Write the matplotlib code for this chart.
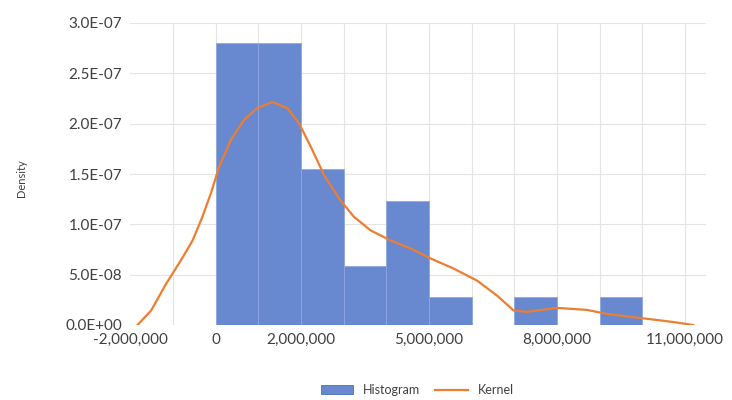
import numpy as np
from matplotlib import pyplot as plt
from matplotlib.ticker import FuncFormatter

plt.rcParams['font.family'] = ['Lato', 'DejaVu Sans']

# histogram bins (left edge, width 1,000,000) and densities
bin_left = [0, 1e6, 2e6, 3e6, 4e6, 5e6, 7e6, 9e6]
bin_density = [2.8e-7, 2.8e-7, 1.55e-7, 0.59e-7, 1.23e-7, 0.28e-7, 0.28e-7, 0.28e-7]

# kernel density curve
kern_x = [-1.83e6, -1.51e6, -1.16e6, -0.81e6, -0.54e6, -0.31e6, -0.11e6, 0.08e6,
          0.36e6, 0.67e6, 0.98e6, 1.33e6, 1.68e6, 1.95e6, 2.23e6, 2.54e6, 2.92e6,
          3.24e6, 3.63e6, 4.1e6, 4.57e6, 5.04e6, 5.58e6, 6.13e6, 6.6e6, 6.98e6,
          7.3e6, 8.0e6, 8.7e6, 9.17e6, 9.95e6, 10.72e6, 11.19e6]
kern_y = [0.0, 0.145e-7, 0.41e-7, 0.645e-7, 0.84e-7, 1.075e-7, 1.31e-7, 1.57e-7,
          1.84e-7, 2.04e-7, 2.155e-7, 2.215e-7, 2.155e-7, 2.006e-7, 1.77e-7, 1.49e-7, 1.24e-7,
          1.075e-7, 0.94e-7, 0.84e-7, 0.76e-7, 0.66e-7, 0.56e-7, 0.44e-7, 0.29e-7, 0.145e-7,
          0.13e-7, 0.17e-7, 0.15e-7, 0.11e-7, 0.07e-7, 0.03e-7, 0.0]

x_ticks = [-2e6, 0, 2e6, 5e6, 8e6, 11e6]
y_ticks = [0, 0.5e-7, 1.0e-7, 1.5e-7, 2.0e-7, 2.5e-7, 3.0e-7]

fig = plt.figure(figsize=(7.32, 4.0), dpi=100)
ax = fig.add_axes([0.178, 0.1875, 0.787, 0.755])

# light grid every 1,000,000 and every 5E-08
for gx in np.arange(-1e6, 11.5e6, 1e6):
    ax.axvline(gx, color='#e4e4e4', lw=0.8, zorder=0)
for gy in y_ticks:
    ax.axhline(gy, color='#e4e4e4', lw=0.8, zorder=0)

ax.bar(bin_left, bin_density, width=1e6, align='edge', color='#6889cf',
       edgecolor='#8ea8de', linewidth=0.6, zorder=2, label='Histogram')
ax.plot(kern_x, kern_y, color='#ED7D31', lw=1.6, zorder=3, label='Kernel',
        solid_joinstyle='round')

ax.set_xlim(-2e6, 11.5e6)
ax.set_ylim(0, 3.0e-7)
ax.set_xticks(x_ticks)
ax.set_yticks(y_ticks)
ax.xaxis.set_major_formatter(FuncFormatter(lambda v, p: f"{v:,.0f}"))
ax.yaxis.set_major_formatter(FuncFormatter(lambda v, p: f"{v:.1E}"))
ax.tick_params(length=0, labelsize=11, labelcolor='#404040', pad=6)
for s in ax.spines.values():
    s.set_visible(False)

fig.text(0.03, 0.555, 'Density', rotation=90, ha='center', va='center',
         fontsize=8, color='#404040')

handles, labels = ax.get_legend_handles_labels()
order = [labels.index('Histogram'), labels.index('Kernel')]
leg = fig.legend([handles[i] for i in order], [labels[i] for i in order],
                 loc='center', bbox_to_anchor=(0.57, 0.025), ncol=2, frameon=False,
                 fontsize=9, handlelength=2.6, handletextpad=0.8, columnspacing=1.2,
                 labelcolor='#404040')
leg.get_patches()[0].set_edgecolor('#4a6fb8')

fig.savefig('out.png', dpi=100)
